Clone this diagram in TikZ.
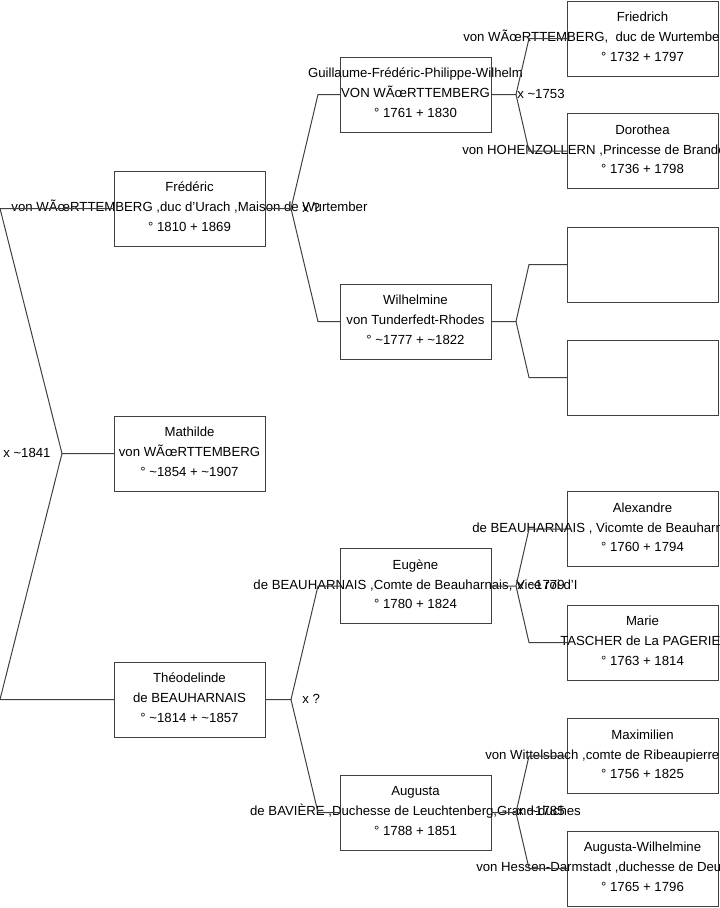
\documentclass[tikz,border=0pt]{standalone}
\usepackage{fontspec}
\setmainfont{Liberation Sans}
\usetikzlibrary{calc}
\tikzset{
  pbox/.style={draw=black!75, line width=0.75pt, minimum width=113.25pt, minimum height=56.25pt, inner sep=0pt, outer sep=0pt},
  ptxt/.style={font=\fontsize{9.9pt}{11pt}\selectfont, inner sep=0pt, anchor=base, text=black},
  conn/.style={draw=black!75, line width=0.75pt},
  lbl/.style={ptxt, anchor=base west},
}
\newcommand{\mkperson}[5]{%
  \node[pbox] (#1) at (#2) {};
  \node[ptxt] (#1-a) at ($(#1.center)+(0,-17)$) {#3};
  \node[ptxt] (#1-b) at ($(#1.center)+(0,3)$) {#4};
  \node[ptxt] (#1-c) at ($(#1.center)+(0,22.5)$) {#5};
}
\begin{document}
\begin{tikzpicture}[x=0.75pt,y=-0.75pt]
\useasboundingbox (0,0) rectangle (719,908);
\coordinate (o) at (0,0);
% column 1
\mkperson{fre}{189.5,208.5}{Frédéric}{von WÃœRTTEMBERG ,duc d'Urach ,Maison de Wurtember}{° 1810 + 1869}
\mkperson{mat}{189.5,453.5}{Mathilde}{von WÃœRTTEMBERG}{° \textasciitilde1854 + \textasciitilde1907}
\mkperson{the}{189.5,699.5}{Théodelinde}{de BEAUHARNAIS}{° \textasciitilde1814 + \textasciitilde1857}
% column 2
\mkperson{gui}{415.5,94.5}{Guillaume-Frédéric-Philippe-Wilhelm}{VON WÃœRTTEMBERG}{° 1761 + 1830}
\mkperson{wil}{415.5,321.5}{Wilhelmine}{von Tunderfedt-Rhodes}{° \textasciitilde1777 + \textasciitilde1822}
\mkperson{eug}{415.5,586}{Eugène}{de BEAUHARNAIS ,Comte de Beauharnais, Vice roi d'I}{° 1780 + 1824}
\mkperson{aug}{415.5,812.5}{Augusta}{de BAVIÈRE ,Duchesse de Leuchtenberg,Grand-duches}{° 1788 + 1851}
% column 3
\mkperson{fri}{642.5,38.5}{Friedrich}{}{° 1732 + 1797}
\node[lbl] (fri-w) at (463,41.5) {von WÃœRTTEMBERG,\ \ duc de Wurtemberg};
\mkperson{dor}{642.5,151}{Dorothea}{}{° 1736 + 1798}
\node[lbl] (dor-w) at (462,154) {von HOHENZOLLERN ,Princesse de Brandebourg};
\node[pbox] (e1) at (642.5,264.5) {};
\node[pbox] (e2) at (642.5,377.5) {};
\mkperson{ale}{642.5,529}{Alexandre}{}{° 1760 + 1794}
\node[lbl] (ale-w) at (472,532) {de BEAUHARNAIS , Vicomte de Beauharnais};
\mkperson{mar}{642.5,642.5}{Marie}{}{° 1763 + 1814}
\node[lbl] (mar-w) at (560,645.5) {TASCHER de La PAGERIE};
\mkperson{max}{642.5,756}{Maximilien}{}{° 1756 + 1825}
\node[lbl] (max-w) at (485,759) {von Wittelsbach ,comte de Ribeaupierre};
\mkperson{auw}{642.5,868.5}{Augusta-Wilhelmine}{}{° 1765 + 1796}
\node[lbl] (auw-w) at (476,871.5) {von Hessen-Darmstadt ,duchesse de Deux-Ponts};
% root fork
\coordinate (f0) at (62,453.5);
\draw[conn] (mat.west) -- (f0) -- (fre.west -| o) -- (fre.west);
\draw[conn] (f0) -- (the.west -| o) -- (the.west);
\node[lbl] (l0) at (3,457) {x \textasciitilde1841};
% column 1 forks
\coordinate (f1) at ($(fre.east)+(26,0)$);
\draw[conn] (fre.east) -- (f1) -- ($(gui.west)+(-22,0)$) -- (gui.west);
\draw[conn] (f1) -- ($(wil.west)+(-22,0)$) -- (wil.west);
\node[lbl] (l1) at (302,212) {x ?};
\coordinate (f2) at ($(the.east)+(26,0)$);
\draw[conn] (the.east) -- (f2) -- ($(eug.west)+(-22,0)$) -- (eug.west);
\draw[conn] (f2) -- ($(aug.west)+(-22,0)$) -- (aug.west);
\node[lbl] (l2) at (302,703) {x ?};
% column 2 forks
\coordinate (g1) at ($(gui.east)+(25,0)$);
\draw[conn] (gui.east) -- (g1) -- ($(fri.west)+(-38,0)$) -- (fri.west);
\draw[conn] (g1) -- ($(dor.west)+(-38,0)$) -- (dor.west);
\node[lbl] (l3) at (517,98) {x \textasciitilde1753};
\coordinate (g2) at ($(wil.east)+(25,0)$);
\draw[conn] (wil.east) -- (g2) -- ($(e1.west)+(-38,0)$) -- (e1.west);
\draw[conn] (g2) -- ($(e2.west)+(-38,0)$) -- (e2.west);
\coordinate (g3) at ($(eug.east)+(25,0)$);
\draw[conn] (eug.east) -- (g3) -- ($(ale.west)+(-38,0)$) -- (ale.west);
\draw[conn] (g3) -- ($(mar.west)+(-38,0)$) -- (mar.west);
\node[lbl] (l4) at (517,589) {x \textasciitilde1779};
\coordinate (g4) at ($(aug.east)+(25,0)$);
\draw[conn] (aug.east) -- (g4) -- ($(max.west)+(-38,0)$) -- (max.west);
\draw[conn] (g4) -- ($(auw.west)+(-38,0)$) -- (auw.west);
\node[lbl] (l5) at (517,815.5) {x \textasciitilde1785};
\end{tikzpicture}
\end{document}
